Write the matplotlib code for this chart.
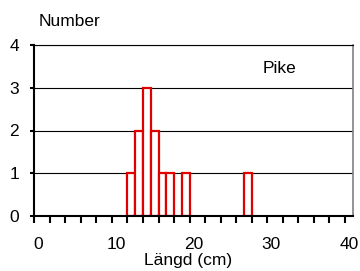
import matplotlib
matplotlib.use("Agg")
import matplotlib.pyplot as plt
from matplotlib.transforms import ScaledTranslation

plt.rcParams['font.family'] = ['Liberation Sans', 'DejaVu Sans']

# histogram: left edge of each 1 cm bin and number of fish
bin_left = [12, 13, 14, 15, 16, 17, 19, 27]
counts = [1, 2, 3, 2, 1, 1, 1, 1]

fig = plt.figure(figsize=(3.6, 2.71), dpi=100)
ax = fig.add_axes([34.3 / 360, 55 / 271, (352.7 - 34.3) / 360, (216 - 45) / 271])

for y in [1, 2, 3, 4]:
    ax.axhline(y, color='black', lw=0.8, zorder=1)

ax.bar(bin_left, counts, width=1, align='edge', facecolor='white',
       edgecolor='#e00000', linewidth=1.6, zorder=2)

ax.set_xlim(0, 41)
ax.set_ylim(0, 4)
ax.set_xticks(range(0, 41, 2))
ax.set_xticklabels([str(v) if v % 10 == 0 else '' for v in range(0, 41, 2)])
ax.set_yticks([0, 1, 2, 3, 4])
ax.tick_params(axis='x', length=5, width=1.5, labelsize=12.5, pad=10)
ax.tick_params(axis='y', length=3, width=1.5, labelsize=12.5, pad=8)

# labels in the original sit a few pixels right of their ticks
shift = ScaledTranslation(4 / 100, 0, fig.dpi_scale_trans)
for lab in ax.get_xticklabels():
    lab.set_transform(lab.get_transform() + shift)

ax.spines['left'].set_linewidth(1.5)
ax.spines['bottom'].set_linewidth(1.5)
ax.spines['top'].set_linewidth(0.8)
ax.spines['right'].set_color('#808080')
ax.spines['right'].set_linewidth(1.2)

fig.text(188 / 360, 1 - 261 / 271, 'Längd (cm)', ha='center', va='center', fontsize=12.5)
ax.text(0.77, 0.86, 'Pike', transform=ax.transAxes, ha='center', va='center', fontsize=12.5)
fig.text(70 / 360, 1 - 22 / 271, 'Number', ha='center', va='center', fontsize=12.5)

fig.savefig('out.png', dpi=100)
